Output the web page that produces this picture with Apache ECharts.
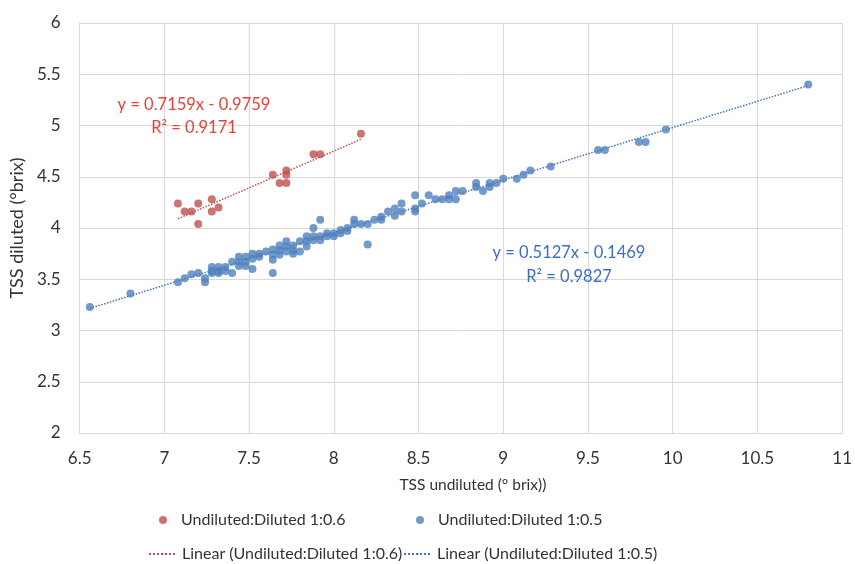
<!DOCTYPE html>
<html>
<head>
<meta charset="utf-8">
<script src="https://cdn.jsdelivr.net/npm/echarts@6/dist/echarts.min.js"></script>
<style>
  html, body { margin: 0; padding: 0; background: #fff; }
  #chart { width: 855px; height: 564px; }
</style>
</head>
<body>
<div id="chart"></div>
<script>
// 1:0.6 dilution points
const redX = [7.08, 7.12, 7.16, 7.20, 7.20, 7.28, 7.28, 7.32, 7.64, 7.68, 7.72, 7.72, 7.72, 7.88, 7.92, 8.16]
const redY = [4.24, 4.16, 4.16, 4.24, 4.04, 4.28, 4.16, 4.20, 4.52, 4.44, 4.44, 4.52, 4.56, 4.72, 4.72, 4.92]

// 1:0.5 dilution points
const blueX = [
  6.56, 6.80, 7.08, 7.12, 7.16, 7.20, 7.24, 7.24,
  7.28, 7.28, 7.28, 7.32, 7.32, 7.32, 7.36, 7.36, 7.40, 7.40,
  7.44, 7.44, 7.44, 7.48, 7.48, 7.48, 7.52, 7.52, 7.52, 7.56, 7.56,
  7.60, 7.64, 7.64, 7.64, 7.64, 7.68, 7.68, 7.68, 7.72, 7.72, 7.72,
  7.76, 7.76, 7.76, 7.80, 7.80, 7.84, 7.84, 7.84, 7.88, 7.88, 7.88,
  7.92, 7.92, 7.92, 7.96, 7.96, 8.00, 8.00, 8.04, 8.04, 8.08, 8.08,
  8.12, 8.12, 8.16, 8.20, 8.20, 8.24, 8.28, 8.28, 8.32, 8.36, 8.36,
  8.40, 8.40, 8.48, 8.48, 8.48, 8.52, 8.56, 8.60, 8.64, 8.68, 8.68,
  8.72, 8.72, 8.76, 8.84, 8.84, 8.88, 8.92, 8.92, 8.96, 9.00,
  9.08, 9.12, 9.16, 9.28, 9.56, 9.60, 9.80, 9.84, 9.96, 10.80
]
const blueY = [
  3.23, 3.36, 3.47, 3.51, 3.55, 3.56, 3.51, 3.47,
  3.62, 3.58, 3.56, 3.62, 3.58, 3.56, 3.62, 3.58, 3.67, 3.56,
  3.72, 3.67, 3.63, 3.72, 3.67, 3.63, 3.75, 3.70, 3.60, 3.75, 3.72,
  3.77, 3.79, 3.74, 3.69, 3.56, 3.83, 3.78, 3.74, 3.87, 3.82, 3.77,
  3.83, 3.78, 3.75, 3.87, 3.77, 3.92, 3.87, 3.82, 4.00, 3.92, 3.88,
  4.08, 3.92, 3.88, 3.95, 3.92, 3.95, 3.92, 3.98, 3.95, 4.00, 3.97,
  4.08, 4.04, 4.04, 4.04, 3.84, 4.08, 4.11, 4.08, 4.16, 4.19, 4.12,
  4.24, 4.16, 4.32, 4.19, 4.16, 4.24, 4.32, 4.28, 4.28, 4.32, 4.28,
  4.36, 4.28, 4.36, 4.44, 4.40, 4.36, 4.44, 4.40, 4.44, 4.48,
  4.48, 4.52, 4.56, 4.60, 4.76, 4.76, 4.84, 4.84, 4.96, 5.40
]

// trend line end points as drawn
const redTrend = [[7.08, 4.09], [8.16, 4.865]]
const blueTrend = [[6.56, 3.216], [10.80, 5.39]]

const xTicks = [6.5, 11, 0.5]  // min, max, step
const yTicks = [2, 6, 0.5]

const names = ['Undiluted:Diluted 1:0.6', 'Undiluted:Diluted 1:0.5',
  'Linear (Undiluted:Diluted 1:0.6)', 'Linear (Undiluted:Diluted 1:0.5)']
const redEq = ['y = 0.7159x - 0.9759', 'R² = 0.9171']
const blueEq = ['y = 0.5127x - 0.1469', 'R² = 0.9827']

const RED = '#c0504d'
const BLUE = '#4f81bd'
const FONT = 'Lato'

function pairs(xs, ys) {
  return xs.map((x, i) => [x, ys[i]])
}

function legendAt(name, left, top, icon, w, h, gap) {
  return {
    data: [name],
    left: left,
    top: top,
    icon: icon,
    itemWidth: w,
    itemHeight: h,
    itemGap: 0,
    padding: 0,
    textStyle: { color: '#333333', fontSize: 16, fontFamily: FONT, padding: [0, 0, 0, gap] }
  }
}

function label(text, x, y, color) {
  return {
    type: 'text',
    x: x,
    y: y,
    z: 100,
    style: {
      text: text,
      fill: color,
      fontSize: 16.5,
      fontFamily: FONT,
      align: 'center',
      verticalAlign: 'middle'
    }
  }
}

const chart = echarts.init(document.getElementById('chart'))
const option = {
  animation: false,
  backgroundColor: '#fff',
  grid: { left: 75, right: 10, top: 23, bottom: 131 },
  xAxis: {
    type: 'value',
    min: xTicks[0],
    max: xTicks[1],
    interval: xTicks[2],
    name: 'TSS undiluted (° brix))',
    nameLocation: 'middle',
    nameGap: 44,
    nameTextStyle: { color: '#333333', fontSize: 15.5, fontFamily: FONT, padding: [0, 0, 0, 24] },
    axisLine: { show: true, lineStyle: { color: '#d9d9d9' } },
    axisTick: { show: false },
    axisLabel: { color: '#333333', fontSize: 17, fontFamily: FONT, margin: 17 },
    splitLine: { show: true, lineStyle: { color: '#d9d9d9' } }
  },
  yAxis: {
    type: 'value',
    min: yTicks[0],
    max: yTicks[1],
    interval: yTicks[2],
    name: 'TSS diluted (°brix)',
    nameLocation: 'middle',
    nameGap: 47,
    nameTextStyle: { color: '#333333', fontSize: 18, fontFamily: FONT },
    axisLine: { show: true, lineStyle: { color: '#d9d9d9' } },
    axisTick: { show: false },
    axisLabel: { color: '#333333', fontSize: 17, fontFamily: FONT, margin: 19 },
    splitLine: { show: true, lineStyle: { color: '#d9d9d9' } }
  },
  legend: [
    legendAt(names[0], 159, 512, 'circle', 8, 8, 9),
    legendAt(names[1], 416, 512, 'circle', 8, 8, 9),
    legendAt(names[2], 148, 546, null, 28, 2, 0),
    legendAt(names[3], 403, 546, null, 28, 2, 0)
  ],
  series: [
    {
      name: names[0],
      type: 'scatter',
      symbolSize: 8,
      itemStyle: { color: RED },
      data: pairs(redX, redY),
      z: 3
    },
    {
      name: names[1],
      type: 'scatter',
      symbolSize: 8,
      itemStyle: { color: BLUE },
      data: pairs(blueX, blueY),
      z: 3
    },
    {
      name: names[2],
      type: 'line',
      symbol: 'none',
      color: RED,
      lineStyle: { color: RED, width: 1.5, type: 'dotted' },
      data: redTrend,
      z: 2
    },
    {
      name: names[3],
      type: 'line',
      symbol: 'none',
      color: BLUE,
      lineStyle: { color: '#4472c4', width: 1.5, type: 'dotted' },
      data: blueTrend,
      z: 2
    }
  ],
  graphic: [
    label(redEq[0], 194, 105, '#e8413a'),
    label(redEq[1], 194, 128, '#e8413a'),
    label(blueEq[0], 569, 253, '#3b6fc4'),
    label(blueEq[1], 569, 277, '#3b6fc4')
  ]
}
chart.setOption(option)
</script>
</body>
</html>
